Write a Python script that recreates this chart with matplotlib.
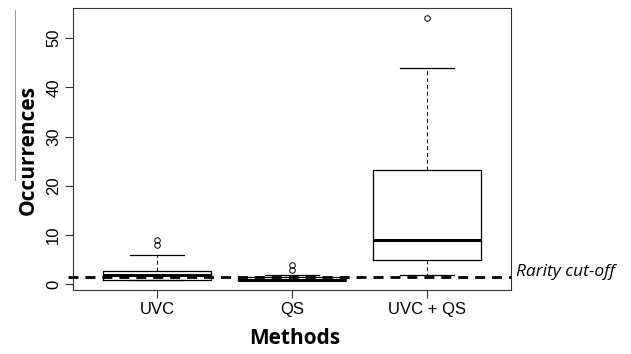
import matplotlib
matplotlib.use("Agg")
import matplotlib.pyplot as plt
from matplotlib.lines import Line2D

# Box summaries (R-style boxplot)
methods = ["UVC", "QS", "UVC + QS"]
q1 = [1, 1, 5]
medians = [2, 1, 9]
q3 = [2.75, 1.5, 23.3]
whisker_low = [1, 1, 2]
whisker_high = [6, 2, 44]
outliers = [[8, 9], [3, 4], [54]]
rarity_cutoff = 1.5
yticks = [0, 10, 20, 30, 40, 50]

stats = []
for i, name in enumerate(methods):
    stats.append(dict(label=name, q1=q1[i], med=medians[i], q3=q3[i],
                      whislo=whisker_low[i], whishi=whisker_high[i],
                      fliers=outliers[i]))

fig = plt.figure(figsize=(6.31, 3.54), dpi=100, facecolor="white")
ax = fig.add_axes([73 / 631, 1 - 290 / 354, 438 / 631, 282 / 354])

ax.bxp(
    stats,
    positions=[1, 2, 3],
    widths=0.8,
    capwidths=0.4,
    patch_artist=False,
    boxprops=dict(color="black", linewidth=0.9),
    medianprops=dict(color="black", linewidth=2.2, solid_capstyle="butt"),
    whiskerprops=dict(color="black", linewidth=0.7, linestyle=(0, (4, 3))),
    capprops=dict(color="black", linewidth=0.9),
    flierprops=dict(marker="o", markerfacecolor="none", markeredgecolor="black",
                    markersize=4, markeredgewidth=0.7),
)

# R default axis extension: 4% each side
ymin, ymax = 1, 54
pad = 0.04 * (ymax - ymin)
ax.set_ylim(ymin - pad, ymax + pad)
ax.set_xlim(0.38, 3.62)

# Rarity cut-off line
ax.axhline(rarity_cutoff, xmin=-0.012, xmax=1.0, color="black", linewidth=2,
           dashes=(3.6, 2.5), clip_on=False, zorder=5)

ax.set_yticks(yticks)
ax.set_yticklabels([str(t) for t in yticks], rotation=90, va="center",
                   fontsize=12, family="Liberation Sans")
ax.set_xticks([1, 2, 3])
ax.set_xticklabels(methods, fontsize=12, family="Liberation Sans")
ax.tick_params(axis="both", length=5.5, width=0.8, color="#333333")
ax.tick_params(axis="y", pad=3)
ax.tick_params(axis="x", pad=3)
for s in ax.spines.values():
    s.set_linewidth(0.8)
    s.set_color("#333333")

fig.text(28 / 631, 1 - 150 / 354, "Occurrences", rotation=90, ha="center",
         va="center", fontsize=15, fontweight="bold", family="Open Sans")
fig.text(295 / 631, 1 - 339 / 354, "Methods", ha="center", va="center",
         fontsize=15, fontweight="bold", family="Open Sans")
fig.text(516 / 631, 1 - 272 / 354, "Rarity cut-off", ha="left", va="center",
         fontsize=12.5, style="italic", family="Open Sans")

# thin grey mark left of the y label, as in the scan
fig.add_artist(Line2D([15 / 631, 15 / 631], [1 - 10 / 354, 1 - 180 / 354],
                      color="#888888", linewidth=0.6))

fig.savefig("out.png", dpi=100, facecolor="white")
